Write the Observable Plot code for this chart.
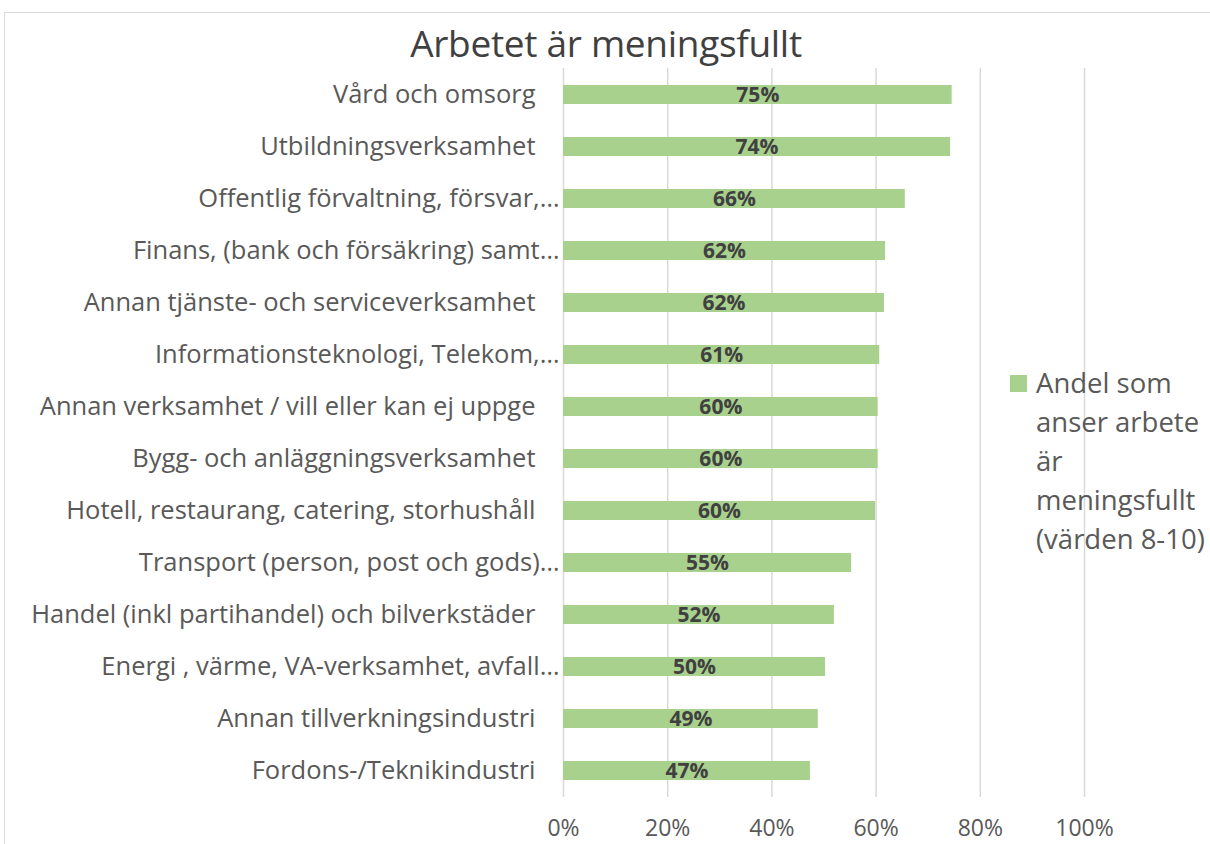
<!DOCTYPE html>
<html>
<head>
<meta charset="utf-8">
<script src="https://cdn.jsdelivr.net/npm/d3@7"></script>
<script src="https://cdn.jsdelivr.net/npm/@observablehq/plot@0.6"></script>
<style>
  html, body { margin: 0; padding: 0; background: #fff; }
  #wrap { position: relative; width: 1210px; height: 844px; overflow: hidden; font-family: "Open Sans", sans-serif; }
  #frame { position: absolute; left: 4px; top: 12px; width: 1300px; height: 900px; border: 1.5px solid #d9d9d9; box-sizing: border-box; }
  #title { position: absolute; left: 0; top: 0; width: 1212px; height: 60px; text-align: center; font-family: "Open Sans", sans-serif; font-size: 37px; color: #404040; line-height: 86px; letter-spacing: -0.3px; }
  #chart { position: absolute; left: 0; top: 60px; }
  #legend { position: absolute; left: 1010px; top: 363px; font-family: "Open Sans", sans-serif; font-size: 27.5px; line-height: 39px; color: #595959; white-space: nowrap; }
  #legend .sw { position: absolute; left: 0; top: 12px; width: 17px; height: 17px; background: #a9d18e; }
  #legend .tx { position: absolute; left: 26px; top: 0; }
</style>
</head>
<body>
<div id="wrap">
  <div id="frame"></div>
  <div id="title">Arbetet är meningsfullt</div>
  <div id="chart"></div>
  <div id="legend"><div class="sw"></div><div class="tx" id="legendText"></div></div>
</div>
<script>
const categories = [
  "Vård och omsorg",
  "Utbildningsverksamhet",
  "Offentlig förvaltning, försvar,…",
  "Finans, (bank och försäkring) samt…",
  "Annan tjänste- och serviceverksamhet",
  "Informationsteknologi, Telekom,…",
  "Annan verksamhet / vill eller kan ej uppge",
  "Bygg- och anläggningsverksamhet",
  "Hotell, restaurang, catering, storhushåll",
  "Transport (person, post och gods)…",
  "Handel (inkl partihandel) och bilverkstäder",
  "Energi , värme, VA-verksamhet, avfall…",
  "Annan tillverkningsindustri",
  "Fordons-/Teknikindustri"
];
const values = [74.6, 74.3, 65.6, 61.8, 61.6, 60.7, 60.4, 60.4, 59.9, 55.3, 52.0, 50.3, 48.9, 47.4];
const xTicks = [0, 20, 40, 60, 80, 100];
const seriesName = "Andel som anser arbete är meningsfullt (värden 8-10)";
const legendLines = ["Andel som", "anser arbete", "är", "meningsfullt", "(värden 8-10)"];

const data = categories.map((c, i) => ({cat: c, value: values[i], label: Math.round(values[i]) + "%"}));
const truncated = categories.filter(c => c.endsWith("…"));
const full = categories.filter(c => !c.endsWith("…"));

const plot = Plot.plot({
  width: 1210,
  height: 784,
  marginLeft: 563,
  marginRight: 126,
  marginTop: 8,
  marginBottom: 47,
  style: {fontFamily: "Open Sans, sans-serif", background: "transparent", overflow: "visible"},
  x: {domain: [0, 100]},
  y: {domain: categories, padding: 0.635, paddingOuter: 0.3175, align: 0.5},
  marks: [
    Plot.gridX(xTicks, {stroke: "#d9d9d9", strokeOpacity: 1, strokeWidth: 1.5}),
    Plot.barX(data, {y: "cat", x: "value", fill: "#a9d18e"}),
    Plot.text(data, {y: "cat", x: d => d.value / 2, text: "label", fill: "#404040", fontWeight: "bold", fontSize: 21}),
    Plot.axisX(xTicks, {tickSize: 0, tickPadding: 22, tickFormat: d => d + "%", fontSize: 23, fill: "#595959", label: null}),
    Plot.axisY(truncated, {tickSize: 0, tickPadding: 4, fontSize: 25.5, fill: "#595959", label: null}),
    Plot.axisY(full, {tickSize: 0, tickPadding: 28, fontSize: 25.5, fill: "#595959", label: null})
  ]
});
document.getElementById("chart").appendChild(plot);
document.getElementById("legendText").innerHTML = legendLines.join("<br>");
</script>
</body>
</html>
